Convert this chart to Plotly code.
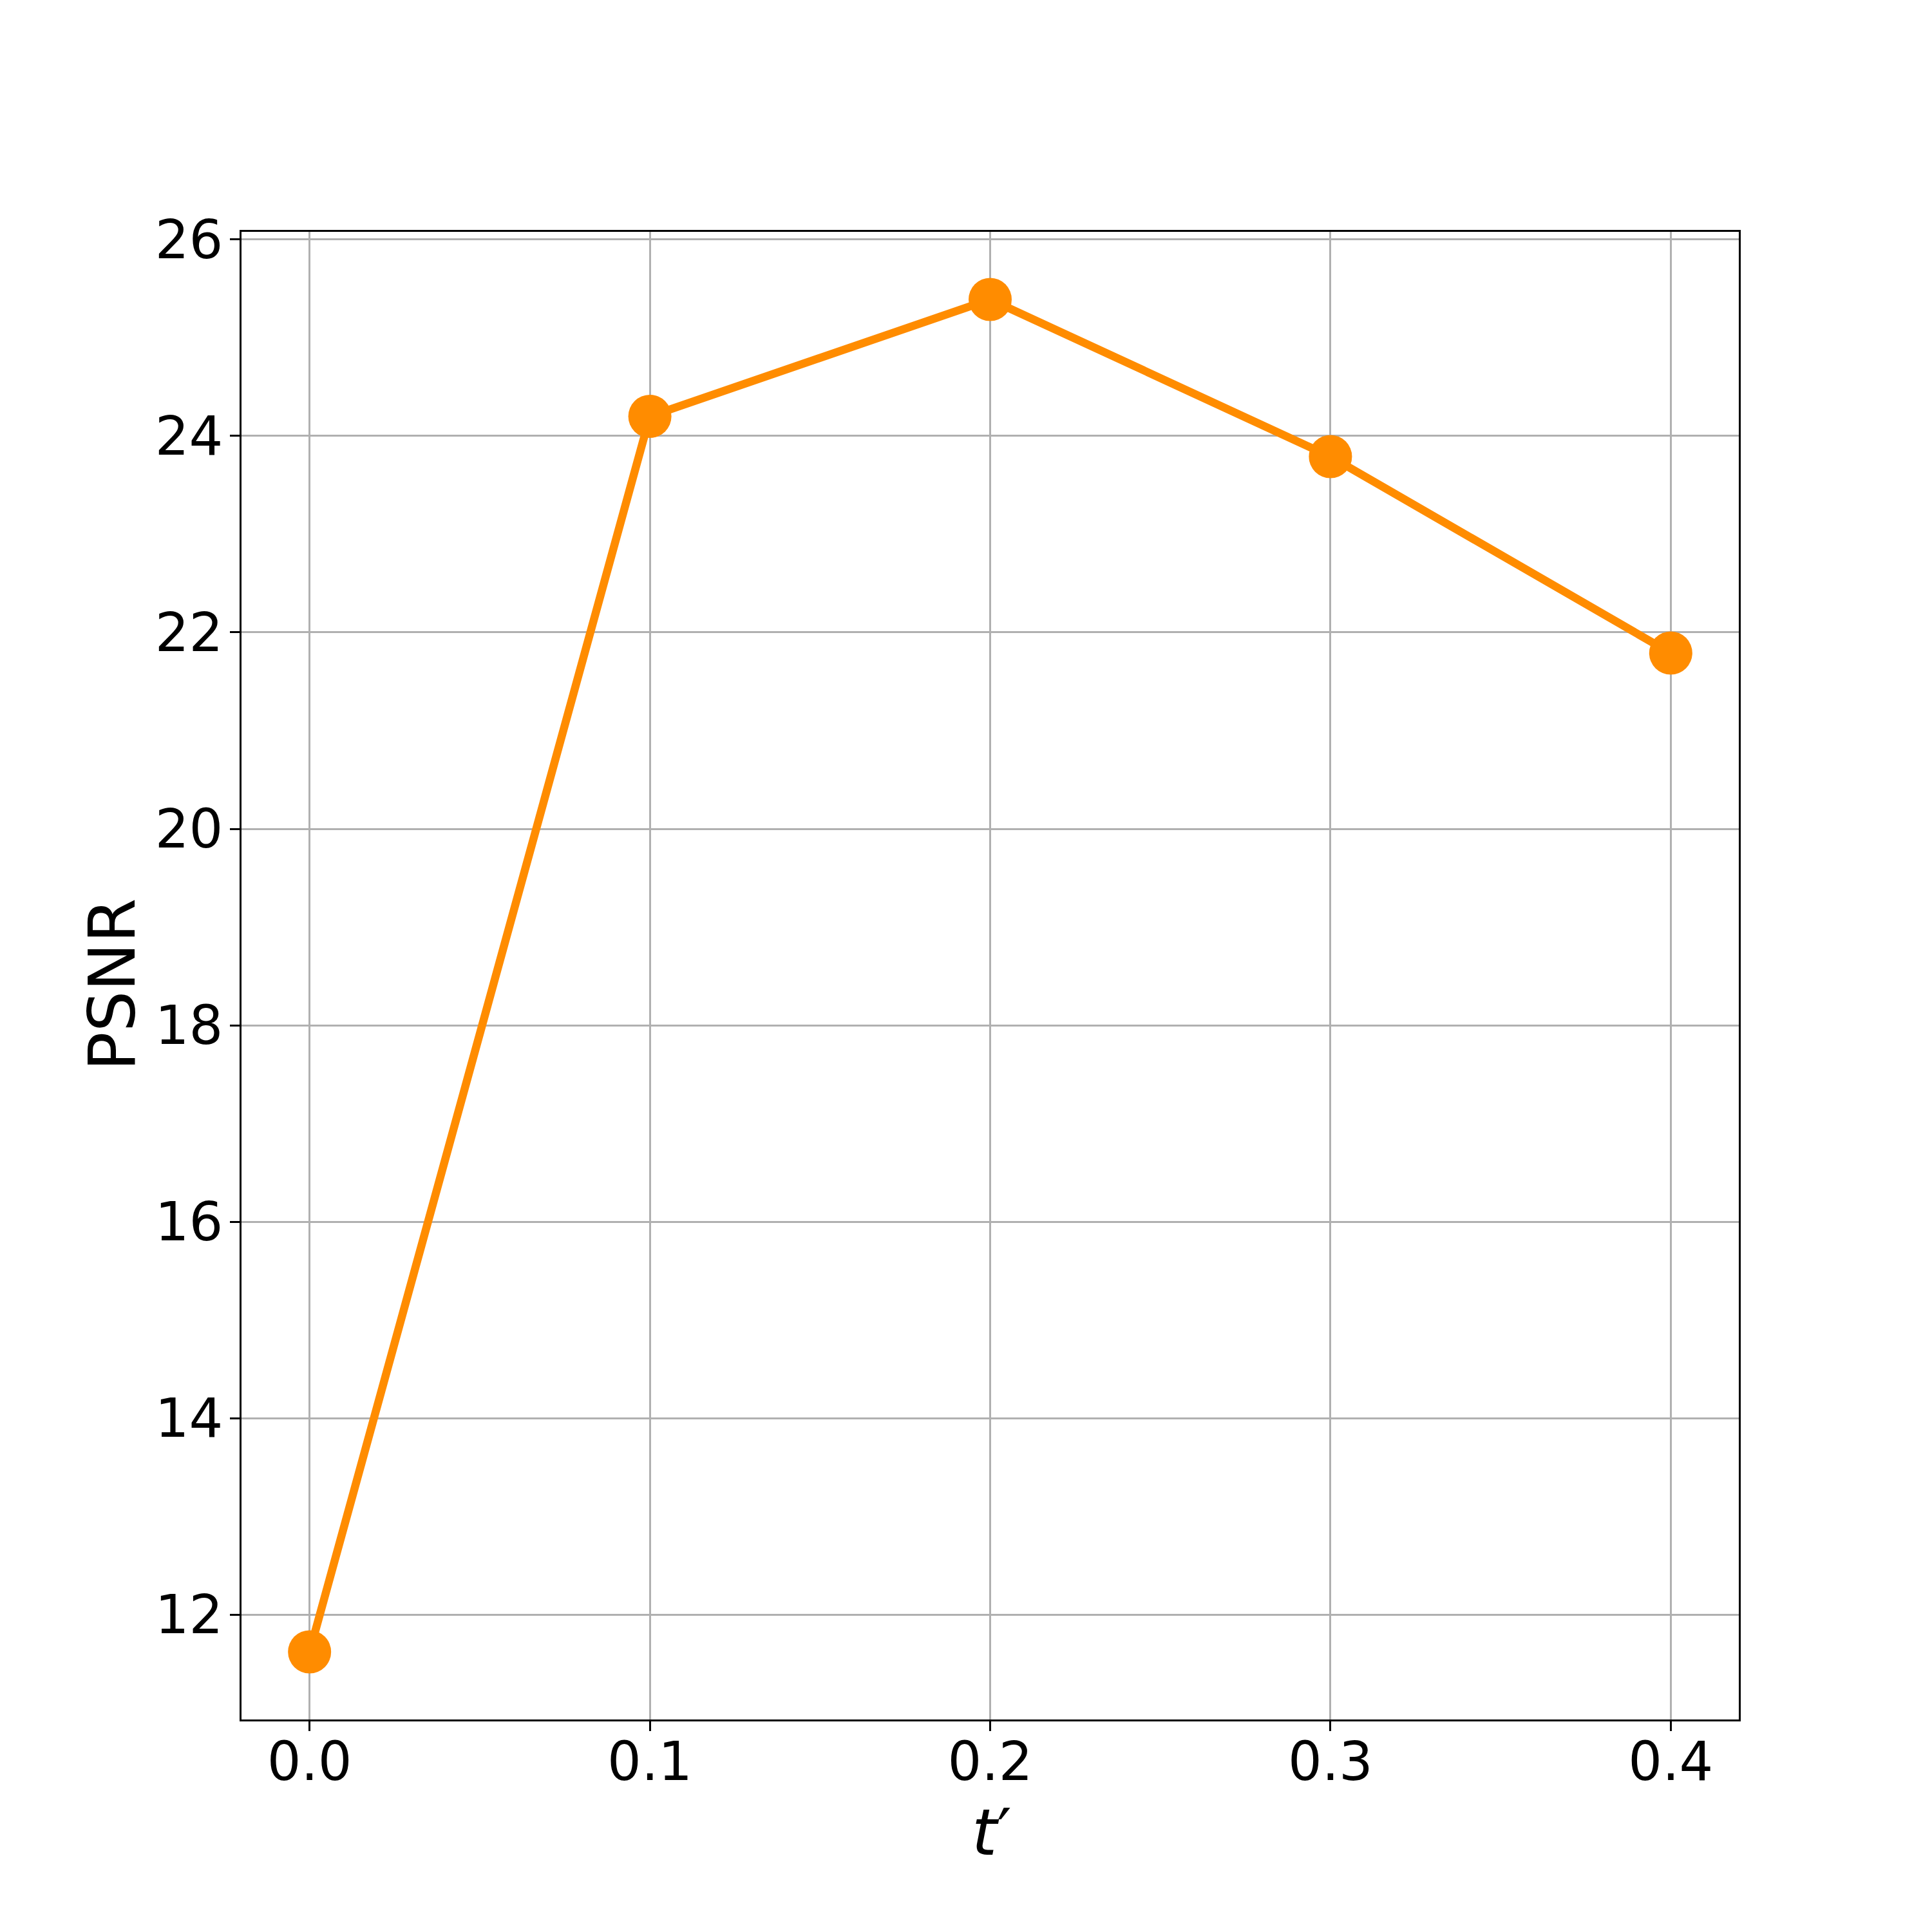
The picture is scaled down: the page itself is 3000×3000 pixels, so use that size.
import plotly.graph_objects as go

# Data
t_prime = [0.0, 0.1, 0.2, 0.3, 0.4]
psnr = [11.62, 24.20, 25.39, 23.79, 21.79]
x_tick_vals = [0.0, 0.1, 0.2, 0.3, 0.4]
x_tick_text = ["0.0", "0.1", "0.2", "0.3", "0.4"]
y_tick_vals = [12, 14, 16, 18, 20, 22, 24, 26]
y_tick_text = ["12", "14", "16", "18", "20", "22", "24", "26"]

# matplotlib-like 5% margins
xmin, xmax = min(t_prime), max(t_prime)
ymin, ymax = min(psnr), max(psnr)
xpad = 0.05 * (xmax - xmin)
ypad = 0.05 * (ymax - ymin)

FONT = "DejaVu Sans"
# page body has an 8px margin; compensate
W = H = 2992
L, R, T, B = 367, 300, 352, 330

fig = go.Figure()
fig.add_trace(go.Scatter(
    x=t_prime, y=psnr, mode="lines+markers",
    line=dict(color="#FF8C00", width=12.5),
    marker=dict(color="#FF8C00", size=67),
    showlegend=False,
))

axis_common = dict(
    showline=True, mirror=True, linecolor="black", linewidth=3.3,
    showgrid=True, gridcolor="#b0b0b0", gridwidth=3.3,
    ticks="outside", ticklen=15, tickwidth=3.3, tickcolor="black",
    tickfont=dict(family=FONT, size=83, color="black"),
    zeroline=False,
    automargin=False,
)

fig.update_layout(
    width=W, height=H,
    margin=dict(l=L, r=R, t=T, b=B, autoexpand=False),
    paper_bgcolor="white", plot_bgcolor="white",
    font=dict(family=FONT, color="black"),
    xaxis=dict(
        range=[xmin - xpad, xmax + xpad],
        tickvals=x_tick_vals, ticktext=x_tick_text,
        ticklabelstandoff=-24,
        **axis_common,
    ),
    yaxis=dict(
        range=[ymin - ypad, ymax + ypad],
        tickvals=y_tick_vals, ticktext=y_tick_text,
        ticklabelstandoff=-6,
        **axis_common,
    ),
    annotations=[
        dict(text="<i>t</i>′", xref="paper", yref="paper", x=0.501, y=-0.0758,
             xanchor="center", yanchor="middle", showarrow=False,
             font=dict(family=FONT, size=100, color="black")),
        dict(text="PSNR", xref="paper", yref="paper", x=-0.0861, y=0.494,
             xanchor="center", yanchor="middle", showarrow=False, textangle=-90,
             font=dict(family=FONT, size=100, color="black")),
    ],
)

fig.write_html("out.html")
